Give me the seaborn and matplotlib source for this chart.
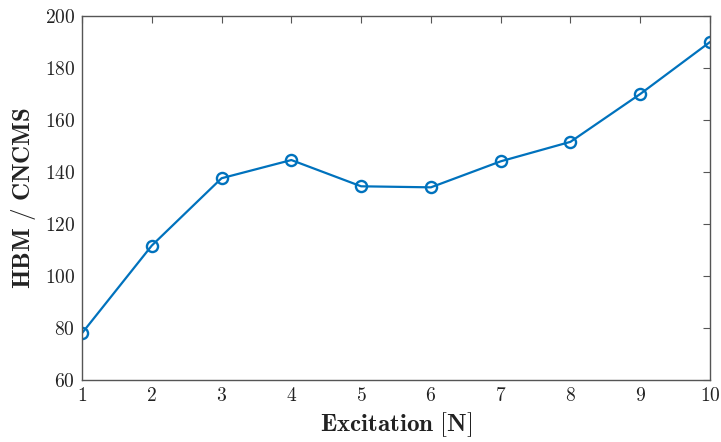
import matplotlib
matplotlib.use("Agg")
import matplotlib.pyplot as plt
import matplotlib.ticker as mticker
import seaborn as sns
import pandas as pd

excitation = [1, 2, 3, 4, 5, 6, 7, 8, 9, 10]
ratio = [78.0, 111.7, 137.6, 144.6, 134.5, 134.1, 144.1, 151.6, 170.0, 190.0]
x_label = "Excitation [N]"
y_label = "HBM / CNCMS"

df = pd.DataFrame({"Excitation": excitation, "Ratio": ratio})

sns.set_style("white")
plt.rcParams["font.family"] = ["DejaVu Serif"]
plt.rcParams["mathtext.fontset"] = "cm"

fig = plt.figure(figsize=(7.21, 4.42), dpi=100)
ax = fig.add_axes([82 / 721, 1 - 380 / 442, (710 - 82) / 721, (380 - 16) / 442])

sns.lineplot(data=df, x="Excitation", y="Ratio", ax=ax, color="#0072BD",
             linewidth=1.6, marker="o", markersize=8, markerfacecolor="none",
             markeredgecolor="#0072BD", markeredgewidth=1.7)

ax.set_xlim(1, 10)
ax.set_ylim(60, 200)
ax.set_xticks(range(1, 11))
ax.set_yticks(range(60, 201, 20))
cm_fmt = mticker.FuncFormatter(lambda v, p: r"$\mathrm{%d}$" % round(v))
ax.xaxis.set_major_formatter(cm_fmt)
ax.yaxis.set_major_formatter(cm_fmt)

for s in ax.spines.values():
    s.set_color("#555555")
    s.set_linewidth(1.0)
ax.tick_params(direction="in", length=5, width=0.8, color="#555555",
               top=True, right=True, labelsize=14, labelcolor="#222222", pad=5)


def bold_tex(s):
    return r"$\mathbf{" + s.replace(" ", r"\ ") + "}$"


ax.set_xlabel(bold_tex(x_label), fontsize=18, color="#222222", labelpad=4)
ax.set_ylabel(bold_tex(y_label), fontsize=18, color="#222222", labelpad=5)

fig.savefig("out.png", dpi=100)
